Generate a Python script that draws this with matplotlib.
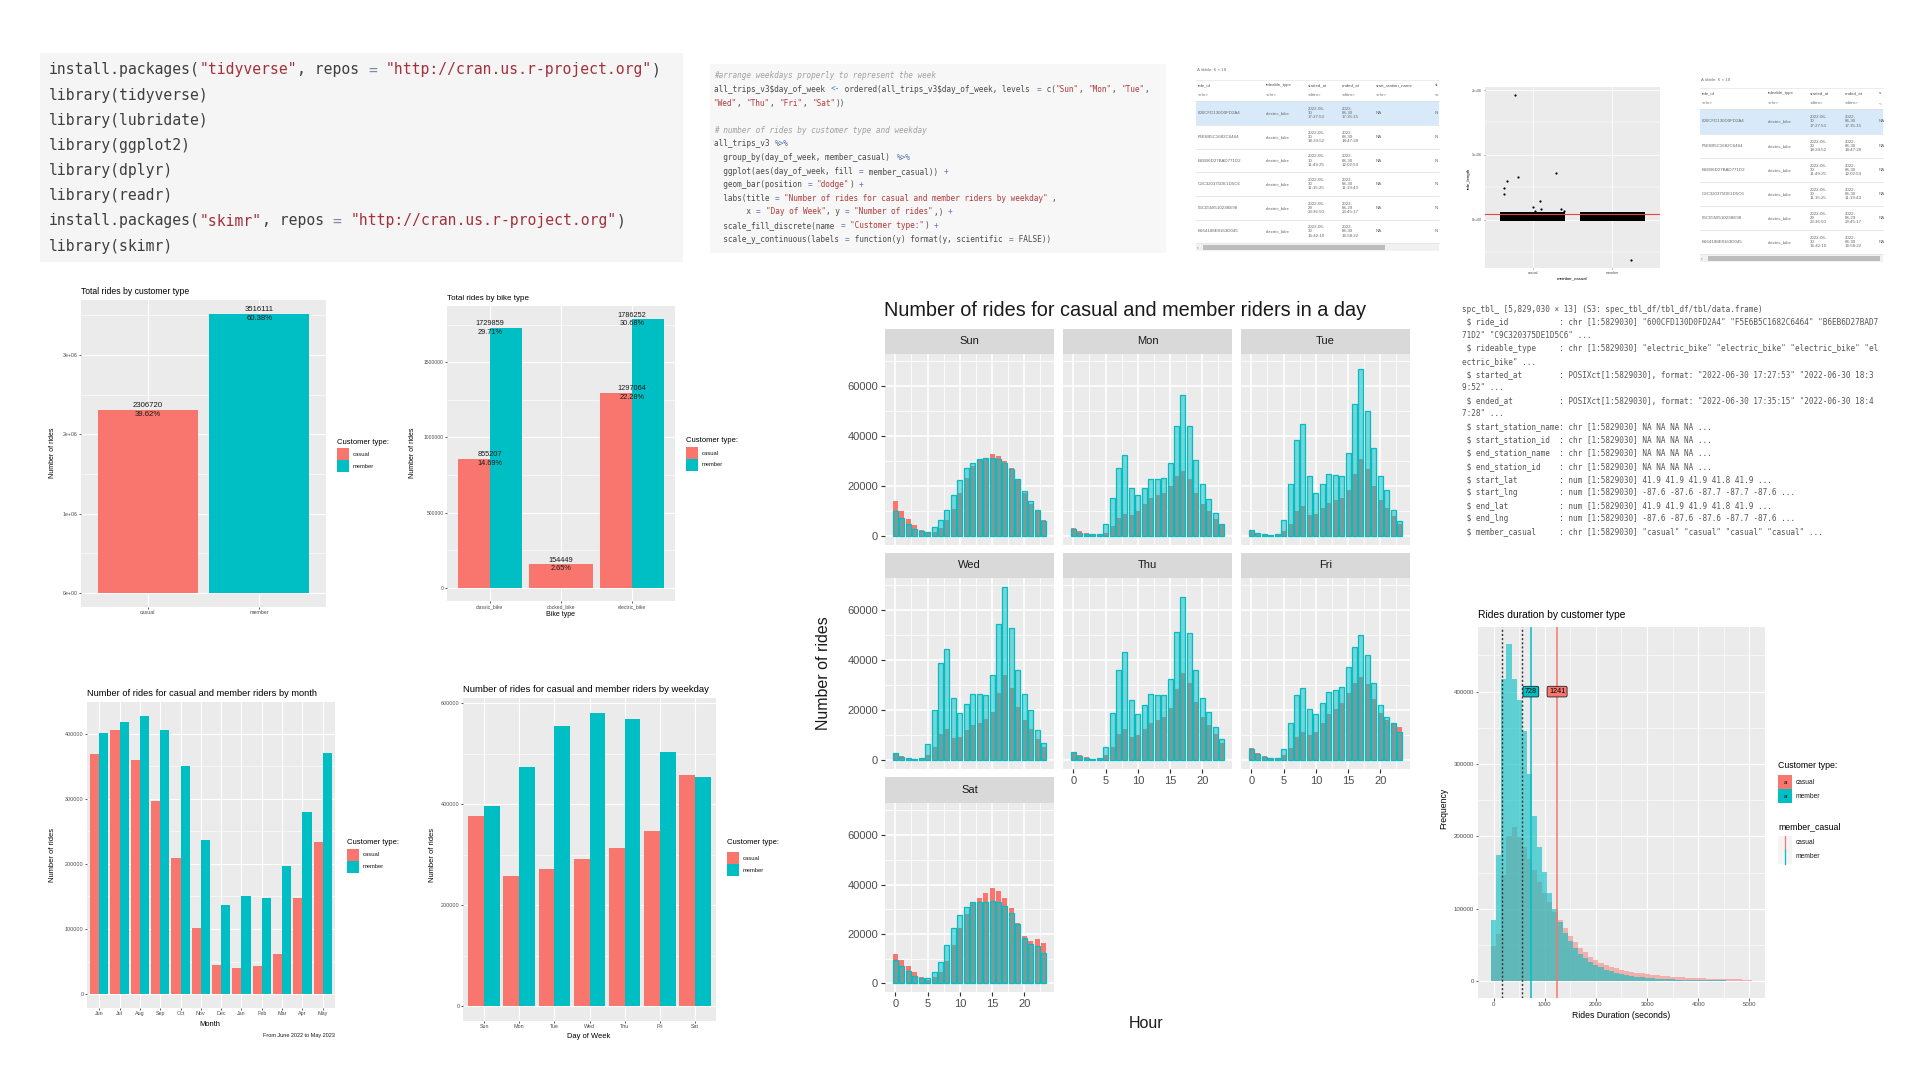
import re
import numpy as np
import matplotlib
matplotlib.use("Agg")
import matplotlib.pyplot as plt
from matplotlib.patches import Rectangle
from matplotlib.lines import Line2D
from matplotlib.colors import to_rgba

plt.rcParams['font.family'] = ['Liberation Sans', 'DejaVu Sans']
W, H = 1920, 1080
RED, TEAL = '#F8766D', '#00BFC4'
MONO = 'DejaVu Sans Mono'

# ------------------------------------------------------------------ data
customer_types = ['casual', 'member']
total_rides = [2306720, 3516111]
total_pct = ['39.62%', '60.38%']

bike_types = ['classic_bike', 'docked_bike', 'electric_bike']
bike_casual = [855207, 154449, 1297064]
bike_member = [1729859, 0, 1786252]
bike_casual_pct = ['14.69%', '2.65%', '22.28%']
bike_member_pct = ['29.71%', '', '30.68%']

months = ['Jun', 'Jul', 'Aug', 'Sep', 'Oct', 'Nov', 'Dec', 'Jan', 'Feb', 'Mar', 'Apr', 'May']
month_casual = [369051, 406055, 358924, 296697, 208989, 100772, 44894, 40008, 43016, 62201, 147285, 234181]
month_member = [400153, 417426, 427008, 404642, 349696, 236963, 136912, 150293, 147429, 196477, 279305, 370646]

weekdays = ['Sun', 'Mon', 'Tue', 'Wed', 'Thu', 'Fri', 'Sat']
weekday_casual = [376000, 257000, 272000, 292000, 313000, 347000, 457000]
weekday_member = [396000, 473000, 554000, 581000, 568000, 503000, 454000]

hours = list(range(24))
casual_hourly = {
    'Sun': [14000, 10000, 7000, 4500, 2500, 1500, 1700, 3500, 6500, 11000, 17500, 23500, 28000, 30500, 31500, 33000, 32000, 30000, 27500, 22500, 17500, 13000, 10000, 6500],
    'Mon': [3500, 2000, 1200, 800, 800, 1500, 4000, 7500, 9000, 8500, 10000, 13000, 15500, 16500, 17500, 20000, 24000, 26000, 23000, 17500, 13000, 10000, 7000, 4500],
    'Tue': [2500, 1500, 1000, 600, 800, 2000, 5000, 10000, 12000, 8500, 9000, 11500, 13500, 14500, 15500, 18500, 25000, 31000, 27000, 20000, 14500, 11500, 8000, 5000],
    'Wed': [3000, 1800, 1000, 600, 800, 2200, 5500, 10500, 12500, 9000, 9500, 12000, 14000, 15000, 16500, 19500, 27000, 34000, 29000, 21500, 16000, 12500, 8500, 5500],
    'Thu': [3500, 2000, 1200, 700, 800, 2000, 5500, 10500, 12500, 9500, 10000, 12500, 15000, 16000, 17500, 21000, 28500, 35000, 31000, 23500, 17500, 14000, 10500, 7000],
    'Fri': [5000, 3000, 1800, 1000, 1000, 2000, 5000, 9500, 11500, 10000, 11500, 15000, 18500, 20500, 23000, 27000, 31000, 33500, 30500, 24500, 19000, 16000, 15000, 13500],
    'Sat': [12000, 9500, 7000, 4500, 2500, 1500, 2500, 4500, 9000, 15500, 22500, 28000, 32500, 34500, 36500, 38500, 37500, 34500, 30500, 24500, 19000, 17000, 18000, 16500],
}
member_hourly = {
    'Sun': [10000, 7500, 5000, 3000, 2000, 1800, 3800, 6500, 10500, 16500, 22500, 27500, 29500, 31000, 31500, 31500, 31000, 29500, 27000, 23000, 18000, 14000, 10500, 6000],
    'Mon': [3000, 1500, 1000, 800, 1000, 5000, 15500, 27500, 32500, 19500, 16500, 19500, 23000, 23000, 23500, 29500, 44000, 56500, 44000, 30500, 21000, 15000, 9500, 5000],
    'Tue': [2500, 1200, 800, 600, 1000, 6500, 21000, 38500, 45000, 24000, 17500, 21000, 25000, 24500, 24000, 33500, 53000, 67000, 50000, 35500, 24000, 18500, 10500, 6000],
    'Wed': [3000, 1500, 800, 600, 1000, 6500, 20000, 39000, 44500, 25000, 19000, 22500, 26500, 26500, 26000, 34000, 54500, 69500, 53000, 36000, 26500, 20000, 12000, 7000],
    'Thu': [3500, 1800, 1000, 700, 1000, 5500, 19000, 36000, 43500, 24000, 18500, 22000, 26500, 26000, 26000, 32500, 51500, 65500, 51000, 36000, 25000, 19500, 13500, 8500],
    'Fri': [4500, 2500, 1200, 800, 1000, 4500, 15000, 26000, 29000, 20500, 18500, 23000, 27500, 28000, 29500, 37500, 45500, 50000, 42000, 31000, 22000, 17500, 15000, 11500],
    'Sat': [9500, 7000, 5000, 3000, 2000, 2000, 4500, 8500, 15500, 22500, 27500, 31000, 33000, 33000, 33000, 33500, 33000, 31500, 28500, 24000, 18500, 16000, 15000, 12500],
}

dur_bins = list(range(0, 5001, 100))
dur_member = [85000, 174000, 417000, 466000, 418000, 388000, 345000, 286000, 228000, 185000,
              151000, 122000, 100000, 82000, 67000, 55000, 46000, 38000, 32000, 27000,
              22500, 19000, 16000, 13500, 11500, 9800, 8400, 7200, 6200, 5400,
              4700, 4100, 3600, 3200, 2800, 2500, 2200, 2000, 1800, 1600,
              1400, 1300, 1200, 1100, 1000, 900, 800, 750, 700, 650, 300]
dur_casual = [48000, 65000, 147000, 201000, 213000, 199000, 185000, 169000, 153000, 137000,
              122000, 109000, 95000, 84000, 73000, 63000, 54000, 46000, 40000, 34000,
              29000, 25500, 22500, 20000, 18000, 16000, 14500, 13000, 11800, 10700,
              9700, 8800, 8000, 7300, 6700, 6100, 5600, 5200, 4800, 4400,
              4100, 3800, 3500, 3300, 3100, 2900, 2700, 2500, 2300, 2200, 1000]
dur_mean_member = 728
dur_mean_casual = 1241
dur_dotted = [160, 560]

scatter_group = [1, 1, 1, 1, 1, 1, 1, 1, 1, 1, 1, 1, 1, 2]
scatter_jitter = [-0.22, -0.365, -0.365, -0.324, -0.18, 0.29, 0.09, 0.0, 0.03, 0.11, 0.35, 0.39, 0.19, 0.24]
scatter_len = [1920000, 495000, 400000, 600000, 650000, 720000, 290000, 200000, 140000, 160000, 160000, 140000, 100000, -620000]
scatter_band_top = [110000, 110000]
scatter_band_bottom = [-25000, -25000]
scatter_hline = 85000

tbl_cols = ['ride_id', 'rideable_type', 'started_at', 'ended_at', 'start_station_name', 'st']
tbl_types = ['<chr>', '<chr>', '<dttm>', '<dttm>', '<chr>', '<c']
ride_ids = ['600CFD130D0FD2A4', 'F5E6B5C1682C6464', 'B6EB6D27BAD771D2',
            'C9C320375DE1D5C6', '56C055851023BE98', 'B664188E8163D045']
ride_types = ['electric_bike'] * 6
started = ['2022-06-\n30\n17:27:53', '2022-06-\n30\n18:39:52', '2022-06-\n30\n11:49:25',
           '2022-06-\n30\n11:15:25', '2022-06-\n29\n23:36:50', '2022-06-\n30\n16:42:10']
ended = ['2022-\n06-30\n17:35:15', '2022-\n06-30\n18:47:28', '2022-\n06-30\n12:02:54',
         '2022-\n06-30\n11:19:43', '2022-\n06-29\n23:45:17', '2022-\n06-30\n16:58:22']
stations = ['NA'] * 6

code1 = [
    'install.packages("tidyverse", repos = "http://cran.us.r-project.org")',
    'library(tidyverse)',
    'library(lubridate)',
    'library(ggplot2)',
    'library(dplyr)',
    'library(readr)',
    'install.packages("skimr", repos = "http://cran.us.r-project.org")',
    'library(skimr)',
]
code2 = [
    '#arrange weekdays properly to represent the week',
    'all_trips_v3$day_of_week <- ordered(all_trips_v3$day_of_week, levels = c("Sun", "Mon", "Tue",',
    '"Wed", "Thu", "Fri", "Sat"))',
    '',
    '# number of rides by customer type and weekday',
    'all_trips_v3 %>%',
    '  group_by(day_of_week, member_casual) %>%',
    '  ggplot(aes(day_of_week, fill = member_casual)) +',
    '  geom_bar(position = "dodge") +',
    '  labs(title = "Number of rides for casual and member riders by weekday",',
    '       x = "Day of Week", y = "Number of rides",) +',
    '  scale_fill_discrete(name = "Customer type:") +',
    '  scale_y_continuous(labels = function(y) format(y, scientific = FALSE))',
]
str_lines = [
    'spc_tbl_ [5,829,030 × 13] (S3: spec_tbl_df/tbl_df/tbl/data.frame)',
    ' $ ride_id           : chr [1:5829030] "600CFD130D0FD2A4" "F5E6B5C1682C6464" "B6EB6D27BAD7',
    '71D2" "C9C320375DE1D5C6" ...',
    ' $ rideable_type     : chr [1:5829030] "electric_bike" "electric_bike" "electric_bike" "el',
    'ectric_bike" ...',
    ' $ started_at        : POSIXct[1:5829030], format: "2022-06-30 17:27:53" "2022-06-30 18:3',
    '9:52" ...',
    ' $ ended_at          : POSIXct[1:5829030], format: "2022-06-30 17:35:15" "2022-06-30 18:4',
    '7:28" ...',
    ' $ start_station_name: chr [1:5829030] NA NA NA NA ...',
    ' $ start_station_id  : chr [1:5829030] NA NA NA NA ...',
    ' $ end_station_name  : chr [1:5829030] NA NA NA NA ...',
    ' $ end_station_id    : chr [1:5829030] NA NA NA NA ...',
    ' $ start_lat         : num [1:5829030] 41.9 41.9 41.9 41.8 41.9 ...',
    ' $ start_lng         : num [1:5829030] -87.6 -87.6 -87.7 -87.7 -87.6 ...',
    ' $ end_lat           : num [1:5829030] 41.9 41.9 41.9 41.8 41.9 ...',
    ' $ end_lng           : num [1:5829030] -87.6 -87.6 -87.6 -87.7 -87.6 ...',
    ' $ member_casual     : chr [1:5829030] "casual" "casual" "casual" "casual" ...',
]

# ------------------------------------------------------------------ helpers
fig = plt.figure(figsize=(19.2, 10.8), dpi=100)
fig.patch.set_facecolor('white')


def fx(x):
    return x / W


def fy(y):
    return 1 - y / H


def box(l, t, r, b):
    return [l / W, 1 - b / H, (r - l) / W, (b - t) / H]


def ftext(x, y, s, **kw):
    kw.setdefault('va', 'center')
    kw.setdefault('ha', 'left')
    return fig.text(fx(x), fy(y), s, **kw)


def frect(l, t, r, b, color, z=0.5):
    fig.add_artist(Rectangle((fx(l), fy(b)), (r - l) / W, (b - t) / H, transform=fig.transFigure,
                             facecolor=color, edgecolor='none', zorder=z))


def fline(x0, y0, x1, y1, color, lw=0.5, z=1, ls='-'):
    fig.add_artist(Line2D([fx(x0), fx(x1)], [fy(y0), fy(y1)], transform=fig.transFigure,
                          color=color, lw=lw, zorder=z, ls=ls))


def gg(ax, xlim, ylim, xticks, xlabels, yticks, ylabels, xminor=(), yminor=(), fs=4.5, tl=1.5, glw=0.8):
    ax.set_facecolor('#EBEBEB')
    for s in ax.spines.values():
        s.set_visible(False)
    ax.set_xlim(*xlim)
    ax.set_ylim(*ylim)
    ax.set_xticks(xticks)
    ax.set_xticklabels(xlabels)
    ax.set_yticks(yticks)
    ax.set_yticklabels(ylabels)
    ax.set_xticks(list(xminor), minor=True)
    ax.set_yticks(list(yminor), minor=True)
    ax.tick_params(which='major', length=tl, width=max(glw * 0.7, 0.4), color='#333333',
                   labelsize=fs, labelcolor='#4D4D4D', pad=1)
    ax.tick_params(which='minor', length=0)
    ax.grid(True, which='major', color='white', lw=glw)
    ax.grid(True, which='minor', color='white', lw=glw * 0.5)
    ax.set_axisbelow(True)


def set_labels(ax, xl, xpos, yl, ypos, fs):
    if xl:
        ax.set_xlabel(xl, fontsize=fs, color='black')
        ax.xaxis.set_label_coords(fx(xpos[0]), fy(xpos[1]), transform=fig.transFigure)
        ax.xaxis.label.set_va('center')
    if yl:
        ax.set_ylabel(yl, fontsize=fs, color='black')
        ax.yaxis.set_label_coords(fx(ypos[0]), fy(ypos[1]), transform=fig.transFigure)
        ax.yaxis.label.set_va('center')


def legend_manual(x, title, title_y, labels, colors, key_ys, key, fs_t, fs_l, style='patch'):
    ftext(x, title_y, title, fontsize=fs_t, color='black')
    for lab, c, ky in zip(labels, colors, key_ys):
        if style == 'vline':
            frect(x, ky - key / 2, x + key, ky + key / 2, '#F4F4F4')
            fline(x + key / 2, ky - key / 2, x + key / 2, ky + key / 2, c, lw=0.9, z=2)
        else:
            frect(x, ky - key / 2, x + key, ky + key / 2, c)
            if style == 'patch_a':
                ftext(x + key / 2, ky, 'a', ha='center', fontsize=fs_l * 0.9, color='black', zorder=3)
        ftext(x + key + 4, ky, lab, fontsize=fs_l, color='#1A1A1A')


def draw_code(lines, x0, y0, dy, fs, c_txt, c_str, c_op, c_com):
    cw = 0.602 * fs * 100 / 72
    for i, line in enumerate(lines):
        y = y0 + i * dy
        if not line:
            continue
        if line.strip().startswith('#'):
            ftext(x0, y, line, fontsize=fs, family=MONO, color=c_com, style='italic')
            continue
        pos = 0
        for tok in re.split(r'("[^"]*"|%>%|<-|\+|=)', line):
            if not tok:
                continue
            if tok.startswith('"'):
                c = c_str
            elif tok in ('%>%', '<-', '+', '='):
                c = c_op
            else:
                c = c_txt
            ftext(x0 + pos * cw, y, tok, fontsize=fs, family=MONO, color=c)
            pos += len(tok)


# ------------------------------------------------------------------ code blocks
frect(40, 53, 683, 262, '#F5F5F5')
draw_code(code1, 49, 69.8, 25.2, 10.6, '#3E3E3E', '#A3303B', '#7D8CA3', '#999999')

frect(710, 64, 1166, 253, '#F7F7F7')
draw_code(code2, 714, 76, 13.6, 5.6, '#4A4A4A', '#B03A3A', '#5C79B0', '#A0A0A0')

# str() output
for i, line in enumerate(str_lines):
    ftext(1462, 309 + i * 13.1, line, fontsize=5.5, family=MONO, color='#555555')


# ------------------------------------------------------------------ tibble tables
def draw_table(l, r, title_y, edges, col_x, hdr_y, typ_y, thumb, names, types, last_cell):
    fs = 3.2
    ftext(l + 1, title_y, 'A tibble: 6 × 18', fontsize=fs, color='#777777')
    frect(l, edges[0], r, edges[1], '#D8EAF9')
    for e in edges:
        fline(l, e, r, e, '#DDDDDD', lw=0.5)
    fline(l, hdr_y - 5, r, hdr_y - 5, '#E5E5E5', lw=0.5)
    for cx, n, t in zip(col_x, names, types):
        ftext(cx, hdr_y, n, fontsize=fs, color='#555555')
        ftext(cx, typ_y, t, fontsize=fs, color='#777777')
    for k in range(6):
        yc = (edges[k] + edges[k + 1]) / 2
        cells = [ride_ids[k], ride_types[k], started[k], ended[k], stations[k], last_cell]
        for cx, cell in zip(col_x, cells):
            ftext(cx, yc, cell, fontsize=fs, color='#666666', linespacing=1.15)
    sy0, sy1 = edges[-1] + 1, edges[-1] + 8
    frect(l, sy0, r, sy1, '#F1F1F1')
    frect(thumb[0], sy0 + 1, thumb[1], sy1 - 1, '#BDBDBD')
    ftext(l + 1, (sy0 + sy1) / 2, '‹', fontsize=3.5, color='#777777')


draw_table(1196, 1439, 70, [101, 125, 149, 172, 196, 220, 243],
           [1198, 1266, 1308, 1342, 1376, 1435], 85, 95, (1203, 1385),
           tbl_cols, tbl_types, 'N')
draw_table(1700, 1883, 80, [109, 134, 158, 182, 206, 230, 254],
           [1702, 1768, 1810, 1845, 1879], 93, 103, (1708, 1880),
           tbl_cols[:4] + ['s'], tbl_types[:4] + ['<'], 'N')

# ------------------------------------------------------------------ boxplot-like scatter
axs = fig.add_axes(box(1485, 87, 1660, 268))
sc_x = [g + j for g, j in zip(scatter_group, scatter_jitter)]
axs.bar([1, 2], [t - b for t, b in zip(scatter_band_top, scatter_band_bottom)],
        bottom=scatter_band_bottom, width=0.82, color='black', zorder=2)
axs.scatter(sc_x, scatter_len, s=2.5, color='black', zorder=3, linewidths=0)
axs.axhline(scatter_hline, color='#E8423A', lw=0.8, zorder=4)
gg(axs, (0.4, 2.6), (-747000, 2047000), [1, 2], customer_types, [0, 1e6, 2e6],
   ['0e+00', '1e+06', '2e+06'], yminor=[-5e5, 5e5, 1.5e6], fs=2.6, tl=1, glw=0.6)
set_labels(axs, 'member_casual', (1572, 278), 'ride_length', (1469, 178), 3.2)

# ------------------------------------------------------------------ chart 1: total by customer type
ax1 = fig.add_axes(box(81, 300, 326, 607))
xc = np.arange(1, len(customer_types) + 1)
ax1.bar(xc, total_rides, width=0.9, color=[RED, TEAL], zorder=2)
m1 = max(total_rides)
gg(ax1, (0.4, len(xc) + 0.6), (-0.05 * m1, 1.05 * m1), xc, customer_types,
   [0, 1e6, 2e6, 3e6], ['0e+00', '1e+06', '2e+06', '3e+06'],
   yminor=[5e5, 1.5e6, 2.5e6, 3.5e6], fs=3.8)
for x, v, p in zip(xc, total_rides, total_pct):
    ax1.annotate(str(v), (x, v), xytext=(0, 0.6), textcoords='offset points', ha='center', va='bottom', fontsize=5.6, color='#1A1A1A')
    ax1.annotate(p, (x, v), xytext=(0, -0.6), textcoords='offset points', ha='center', va='top', fontsize=5.6, color='#1A1A1A')
ax1.set_title('Total rides by customer type', loc='left', fontsize=6.2, pad=4.3)
set_labels(ax1, None, None, 'Number of rides', (53, 453), 5)
legend_manual(337, 'Customer type:', 442, customer_types, [RED, TEAL], [454, 466], 11.5, 5.5, 4.2)

# ------------------------------------------------------------------ chart 2: bike type
ax2 = fig.add_axes(box(447, 306, 675, 601))
xb = np.arange(1, len(bike_types) + 1)
for x, c, mval, cp, mp in zip(xb, bike_casual, bike_member, bike_casual_pct, bike_member_pct):
    if mval > 0:
        ax2.bar(x - 0.225, c, width=0.45, color=RED, zorder=2)
        ax2.bar(x + 0.225, mval, width=0.45, color=TEAL, zorder=2)
    else:
        ax2.bar(x, c, width=0.9, color=RED, zorder=2)
    for v, p in ((c, cp), (mval, mp)):
        if v > 0:
            ax2.annotate(str(v), (x, v), xytext=(0, 0.6), textcoords='offset points', ha='center', va='bottom', fontsize=5.3, color='#1A1A1A')
            ax2.annotate(p, (x, v), xytext=(0, -0.6), textcoords='offset points', ha='center', va='top', fontsize=5.3, color='#1A1A1A')
m2 = max(bike_casual + bike_member)
gg(ax2, (0.4, len(xb) + 0.6), (-0.05 * m2, 1.05 * m2), xb, bike_types,
   [0, 5e5, 1e6, 1.5e6], ['0', '500000', '1000000', '1500000'],
   yminor=[2.5e5, 7.5e5, 1.25e6, 1.75e6], fs=3.6)
ax2.set_title('Total rides by bike type', loc='left', fontsize=5.8, pad=4.3)
set_labels(ax2, 'Bike type', (561, 615), 'Number of rides', (413, 453), 5)
legend_manual(686, 'Customer type:', 441, customer_types, [RED, TEAL], [453, 465], 11.5, 5.5, 4.2)

# ------------------------------------------------------------------ chart 3: months
ax3 = fig.add_axes(box(87, 702, 335, 1008))
xm = np.arange(1, len(months) + 1)
ax3.bar(xm - 0.225, month_casual, width=0.45, color=RED, zorder=2)
ax3.bar(xm + 0.225, month_member, width=0.45, color=TEAL, zorder=2)
m3 = max(month_casual + month_member)
gg(ax3, (0.4, len(xm) + 0.6), (-0.05 * m3, 1.05 * m3), xm, months,
   [0, 1e5, 2e5, 3e5, 4e5], ['0', '100000', '200000', '300000', '400000'],
   yminor=[5e4, 1.5e5, 2.5e5, 3.5e5], fs=3.9)
ax3.set_title('Number of rides for casual and member riders by month', loc='left', fontsize=6.7, pad=4.3)
set_labels(ax3, 'Month', (210, 1024), 'Number of rides', (53, 855), 5.4)
ftext(335, 1036, 'From June 2022 to May 2023', ha='right', fontsize=4, color='#1A1A1A')
legend_manual(347, 'Customer type:', 842, customer_types, [RED, TEAL], [855, 867], 11.5, 5.5, 4.2)

# ------------------------------------------------------------------ chart 4: weekdays
ax4 = fig.add_axes(box(463, 698, 716, 1021))
xw = np.arange(1, len(weekdays) + 1)
ax4.bar(xw - 0.225, weekday_casual, width=0.45, color=RED, zorder=2)
ax4.bar(xw + 0.225, weekday_member, width=0.45, color=TEAL, zorder=2)
m4 = max(weekday_casual + weekday_member)
gg(ax4, (0.4, len(xw) + 0.6), (-0.05 * m4, 1.05 * m4), xw, weekdays,
   [0, 2e5, 4e5, 6e5], ['0', '200000', '400000', '600000'],
   yminor=[1e5, 3e5, 5e5], fs=3.9)
ax4.set_title('Number of rides for casual and member riders by weekday', loc='left', fontsize=6.8, pad=4.3)
set_labels(ax4, 'Day of Week', (589, 1037), 'Number of rides', (432, 855), 5.4)
legend_manual(727, 'Customer type:', 843, customer_types, [RED, TEAL], [858, 870], 11.5, 5.5, 4.2)

# ------------------------------------------------------------------ chart 5: facets by hour
col_x = [(885, 1054), (1063, 1232), (1241, 1410)]
row_y = [(329, 354, 545), (553, 578, 769), (777, 803, 992)]
ymax = max(max(v) for v in list(casual_hourly.values()) + list(member_hourly.values()))
hx = np.array(hours)
member_face = to_rgba(TEAL, 0.5)
for i, d in enumerate(weekdays):
    r, c = divmod(i, 3)
    l, rr = col_x[c]
    st, pt, pb = row_y[r]
    ax = fig.add_axes(box(l, pt, rr, pb))
    ax.bar(hx, casual_hourly[d], width=0.78, color=RED, lw=0, zorder=2)
    ax.bar(hx, member_hourly[d], width=0.78, facecolor=member_face, edgecolor=TEAL, lw=0.9, zorder=3)
    gg(ax, (-1.6, 24.6), (-0.05 * ymax, 1.05 * ymax), [0, 5, 10, 15, 20], ['0', '5', '10', '15', '20'],
       [0, 20000, 40000, 60000], ['0', '20000', '40000', '60000'],
       xminor=[2.5, 7.5, 12.5, 17.5, 22.5], yminor=[10000, 30000, 50000, 70000],
       fs=8, tl=3, glw=1.2)
    bottom_row = 2 if c == 0 else 1
    if r != bottom_row:
        ax.tick_params(axis='x', which='major', bottom=False, labelbottom=False)
    if c != 0:
        ax.tick_params(axis='y', which='major', left=False, labelleft=False)
    ax.tick_params(pad=2)
    sax = fig.add_axes(box(l, st, rr, pt))
    sax.set_facecolor('#D9D9D9')
    sax.set_xticks([])
    sax.set_yticks([])
    for s in sax.spines.values():
        s.set_visible(False)
    sax.text(0.5, 0.5, d, transform=sax.transAxes, ha='center', va='center', fontsize=8, color='#1A1A1A')
ftext(884, 311, 'Number of rides for casual and member riders in a day', fontsize=14.3, color='#1A1A1A')
ftext(824, 673, 'Number of rides', rotation=90, ha='center', fontsize=11.5, color='#1A1A1A')
ftext(1146, 1023, 'Hour', ha='center', fontsize=11.5, color='#1A1A1A')

# ------------------------------------------------------------------ chart 6: duration histogram
ax6 = fig.add_axes(box(1478, 627, 1765, 998))
ax6.bar(dur_bins, dur_casual, width=100, color=RED, alpha=0.5, lw=0, zorder=2)
ax6.bar(dur_bins, dur_member, width=100, color=TEAL, alpha=0.6, lw=0, zorder=3)
m6 = max(dur_casual + dur_member)
gg(ax6, (-305, 5305), (-0.05 * m6, 1.05 * m6), [0, 1000, 2000, 3000, 4000, 5000],
   ['0', '1000', '2000', '3000', '4000', '5000'],
   [0, 1e5, 2e5, 3e5, 4e5], ['0', '100000', '200000', '300000', '400000'],
   xminor=[500, 1500, 2500, 3500, 4500], yminor=[5e4, 1.5e5, 2.5e5, 3.5e5, 4.5e5], fs=4.4, tl=1.8)
for v in dur_dotted:
    ax6.axvline(v, color='#333333', ls=(0, (1.5, 1.5)), lw=1.0, zorder=4)
ax6.axvline(dur_mean_member, color=TEAL, lw=1.1, zorder=4)
ax6.axvline(dur_mean_casual, color=RED, lw=1.1, zorder=4)
ax6.text(dur_mean_member, 400000, str(dur_mean_member), ha='center', va='center', fontsize=5.2, zorder=5,
         bbox=dict(boxstyle='round,pad=0.25,rounding_size=0.2', fc=TEAL, ec='#222222', lw=0.6))
ax6.text(dur_mean_casual, 400000, str(dur_mean_casual), ha='center', va='center', fontsize=5.2, zorder=5,
         bbox=dict(boxstyle='round,pad=0.25,rounding_size=0.2', fc=RED, ec='#222222', lw=0.6))
ax6.set_title('Rides duration by customer type', loc='left', fontsize=7.4, pad=6.5)
set_labels(ax6, 'Rides Duration (seconds)', (1621, 1015), 'Frequency', (1444, 808), 6.2)
legend_manual(1778, 'Customer type:', 765, customer_types, [RED, TEAL], [782, 796], 14, 6.3, 4.8, style='patch_a')
legend_manual(1778, 'member_casual', 827, customer_types, [RED, TEAL], [843, 857], 14, 6.3, 4.8, style='vline')

fig.savefig('out.png', dpi=100, facecolor='white')
